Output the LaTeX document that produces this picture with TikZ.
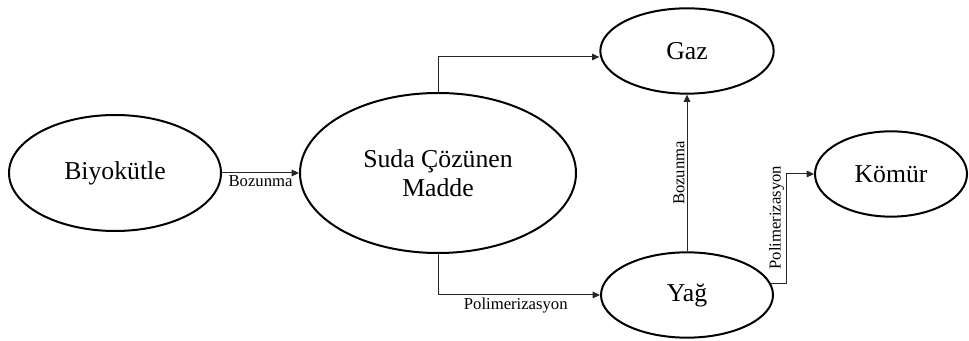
\documentclass[tikz,border=0pt]{standalone}
\usepackage{fontspec}
\setmainfont{Liberation Serif}
\usetikzlibrary{arrows.meta,positioning,shapes.geometric,calc}

\begin{document}
\begin{tikzpicture}[
          x=0.75pt, y=-0.75pt,
          stage/.style={ellipse, draw, line width=1.5pt, inner sep=0pt, font=\fontsize{19.3}{21.5}\selectfont, align=center},
          arrow/.style={-{Triangle[length=5.5pt, width=5pt]}, line width=0.75pt, draw=black!85},
          lbl/.style={font=\fontsize{12.5}{14}\selectfont, inner sep=1.5pt}
        ]
          \useasboundingbox (0,0) rectangle (969,341);

          % Stages
          \node[stage, minimum width=159pt, minimum height=87pt] (bio) at (115,173) {Biyokütle};
          \node[stage, minimum width=207pt, minimum height=120pt] (suda) at (438,173) {Suda Çözünen\\Madde};
          \node[stage, minimum width=130pt, minimum height=64pt] (gaz) at (687,51) {Gaz};
          \node[stage, minimum width=129pt, minimum height=64pt] (yag) at (687,295) {Yağ};
          \node[stage, minimum width=114pt, minimum height=64pt] (komur) at (891,174) {Kömür};

          % Arrows - Main flow
          \draw[arrow] (bio) -- (suda) node[lbl, midway, below] {Bozunma};
          \draw[arrow] (suda.north) |- ($(gaz.west)+(0,6)$);
          \draw[arrow] (suda.south) |- (yag.west) node[lbl, pos=0.74, below] {Polimerizasyon};

          % From oil
          \draw[arrow] (yag.north) -- (gaz.south) node[lbl, midway, rotate=90, anchor=south] {Bozunma};
          \draw[arrow] (yag.8) -- ++(16,0) |- node[lbl, pos=0.3, rotate=90, anchor=south] {Polimerizasyon} (komur.west);

        \end{tikzpicture}
\end{document}
